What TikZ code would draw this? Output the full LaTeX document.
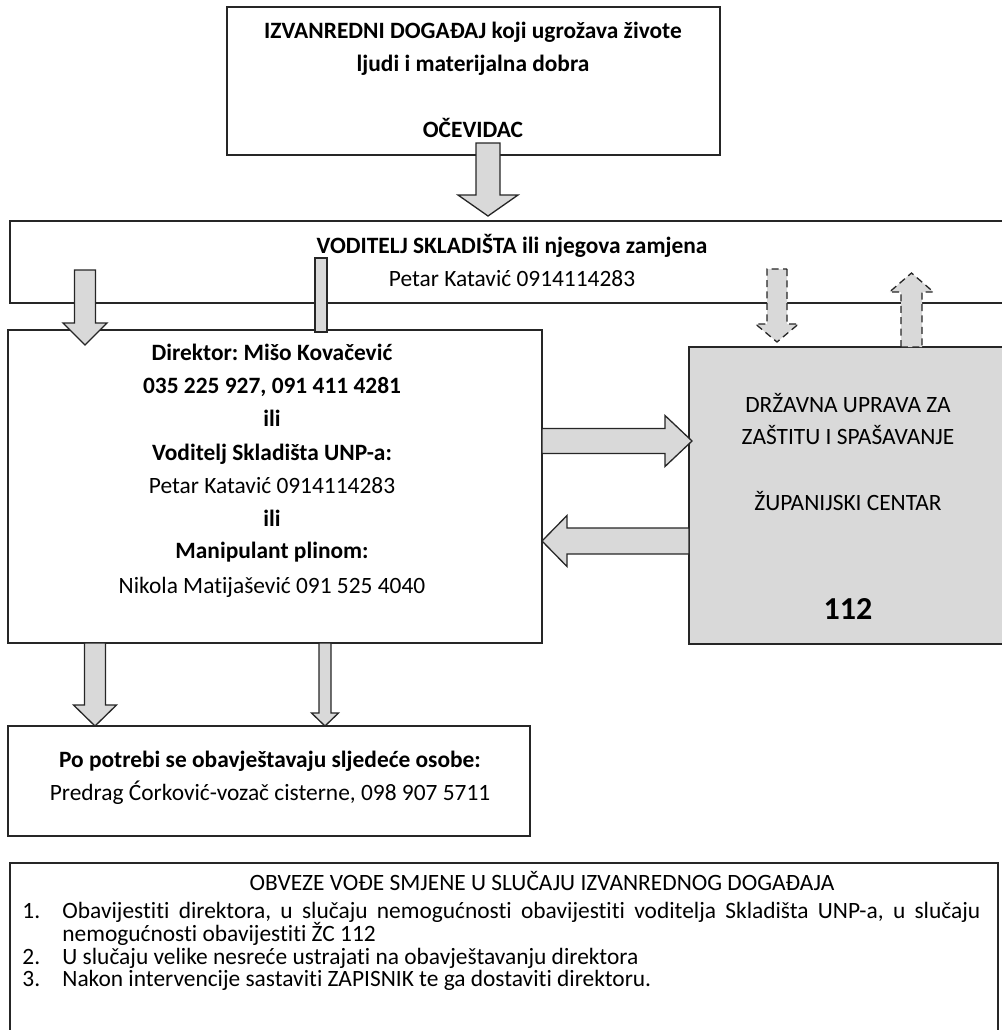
\documentclass[tikz,border=0pt]{standalone}
\usepackage{fontspec}
\setmainfont{Carlito}[Ligatures=NoCommon]
\frenchspacing
\usetikzlibrary{calc}
\colorlet{linecol}{black!85}
\colorlet{arrowgray}{black!15}
\colorlet{centergray}{black!15}
\tikzstyle{box}=[draw=linecol,line width=0.8pt,anchor=north west,inner sep=0pt,outer sep=0pt]
\tikzstyle{txt}=[anchor=base,inner sep=0pt,font=\fontsize{11.7}{14}\selectfont]
\tikzstyle{blk}=[draw=linecol,line width=0.65pt,fill=arrowgray]
\tikzstyle{dashblk}=[blk,dash pattern=on 3.5pt off 2.2pt]

% block arrow: [style]{from}{to}{half shaft}{half head}{head length}
\newcommand\blockarrow[6][]{%
  \path ($(#3)!#6!(#2)$) coordinate (neck);
  \draw[blk,#1] ($(#2)!#4!90:(#3)$) -- ($(neck)!#4!-90:(#2)$)
    -- ($(neck)!#5!-90:(#2)$) -- (#3) -- ($(neck)!#5!90:(#2)$)
    -- ($(neck)!#4!90:(#2)$) -- ($(#2)!#4!-90:(#3)$) -- cycle;}

\begin{document}
\begin{tikzpicture}[x=0.5pt,y=-0.5pt]
  \useasboundingbox (0,0) rectangle (1002,1030);
  \clip (0,0) rectangle (1002,1030);

  % boxes
  \node[box,minimum width=246.5pt,minimum height=74pt] (event) at (227,7) {};
  \node[box,minimum width=500pt,minimum height=41pt] (vod) at (10,221) {};
  \node[box,minimum width=267pt,minimum height=156.5pt] (dir) at (8,330) {};
  \node[box,fill=centergray,minimum width=160.5pt,minimum height=148.5pt] (duzs) at (689,347) {};
  \node[box,minimum width=261pt,minimum height=55pt] (need) at (8,726) {};
  \node[box,minimum width=494pt,minimum height=90pt] (duty) at (10,863) {};

  % arrow ends
  \coordinate (a1s) at ($(488,0 |- event.south)+(0,-12)$);
  \coordinate (a1e) at ($(488,0 |- vod.north)+(0,-5)$);
  \coordinate (a2s) at ($(85,0 |- vod.south)+(0,-33)$);
  \coordinate (a2e) at ($(85,0 |- dir.north)+(0,15)$);
  \coordinate (bar1) at ($(315,0 |- vod.south)+(0,-45)$);
  \coordinate (bar2) at ($(327,0 |- dir.north)+(0,2)$);
  \coordinate (a3s) at (dir.east |- 0,441);
  \coordinate (a3e) at ($(duzs.west |- 0,441)+(3,0)$);
  \coordinate (a4s) at (duzs.west |- 0,541);
  \coordinate (a4e) at (dir.east |- 0,541);
  \coordinate (d1s) at ($(777,0 |- vod.south)+(0,-34)$);
  \coordinate (d1e) at ($(777,0 |- duzs.north)+(0,-5)$);
  \coordinate (d2s) at (911.5,0 |- duzs.north);
  \coordinate (d2e) at ($(911.5,0 |- vod.south)+(0,-30)$);
  \coordinate (b1s) at (95,0 |- dir.south);
  \coordinate (b1e) at (95,0 |- need.north);
  \coordinate (b2s) at (325,0 |- dir.south);
  \coordinate (b2e) at (325,0 |- need.north);

  % arrows
  \blockarrow{a1s}{a1e}{6pt}{15pt}{10.5pt}
  \blockarrow{a2s}{a2e}{5.25pt}{11pt}{11pt}
  \draw[blk] (bar1) rectangle (bar2);
  \blockarrow{a3s}{a3e}{6.25pt}{12.75pt}{13.5pt}
  \blockarrow{a4s}{a4e}{6.5pt}{12.75pt}{12.5pt}
  \blockarrow[dashblk]{d1s}{d1e}{5pt}{10.75pt}{9pt}
  \blockarrow[dashblk]{d2s}{d2e}{5.25pt}{11pt}{9.5pt}
  \blockarrow{b1s}{b1e}{5.25pt}{10.75pt}{10.5pt}
  \blockarrow{b2s}{b2e}{3pt}{6.75pt}{6.5pt}

  % texts
  \foreach \y/\t [count=\i] in {30/{IZVANREDNI DOGAĐAJ koji ugrožava živote},
      63/{ljudi i materijalna dobra},129/{OČEVIDAC}}
    \node[txt,font=\fontsize{11.7}{14}\selectfont\bfseries] (ev\i) at (473,\y+8) {\t};
  \node[txt,font=\fontsize{11.7}{14}\selectfont\bfseries] (vod1) at (512,253)
    {VODITELJ SKLADIŠTA ili njegova zamjena};
  \node[txt] (vod2) at (512,286) {Petar Katavić 0914114283};
  \foreach \y/\t [count=\i] in {352/{\bfseries Direktor: Mišo Kovačević},
      385/{\bfseries 035 225 927, 091 411 4281},418/{\bfseries ili},
      452/{\bfseries Voditelj Skladišta UNP-a:},485/{Petar Katavić 0914114283},
      518/{\bfseries ili},550/{\bfseries Manipulant plinom:},
      585/{Nikola Matijašević 091 525 4040}}
    \node[txt] (dir\i) at (272,\y+8) {\t};
  \foreach \y/\t [count=\i] in {404/{DRŽAVNA UPRAVA ZA},436/{ZAŠTITU I SPAŠAVANJE},
      502/{ŽUPANIJSKI CENTAR}}
    \node[txt] (duzs\i) at (848,\y+8) {\t};
  \node[txt,font=\fontsize{16}{18}\selectfont\bfseries] (num) at (848,619) {112};
  \node[txt,font=\fontsize{11.7}{14}\selectfont\bfseries] (need1) at (270,767)
    {Po potrebi se obavještavaju sljedeće osobe:};
  \node[txt] (need2) at (270,800) {Predrag Ćorković-vozač cisterne, 098 907 5711};

  \node[txt] (title) at (542,890) {OBVEZE VOĐE SMJENE U SLUČAJU IZVANREDNOG DOGAĐAJA};
  \foreach \y/\n/\t [count=\i] in {910/1./{\makebox[459pt][s]{Obavijestiti direktora, u slučaju nemogućnosti obavijestiti voditelja Skladišta UNP-a, u slučaju}},
      933//{nemogućnosti obavijestiti ŽC 112},
      956/2./{U slučaju velike nesreće ustrajati na obavještavanju direktora},
      978/3./{Nakon intervencije sastaviti ZAPISNIK te ga dostaviti direktoru.}} {
    \node[txt,anchor=base west] (num\i) at (22,\y+8) {\n};
    \node[txt,anchor=base west] (item\i) at (62,\y+8) {\t};
  }
\end{tikzpicture}
\end{document}
